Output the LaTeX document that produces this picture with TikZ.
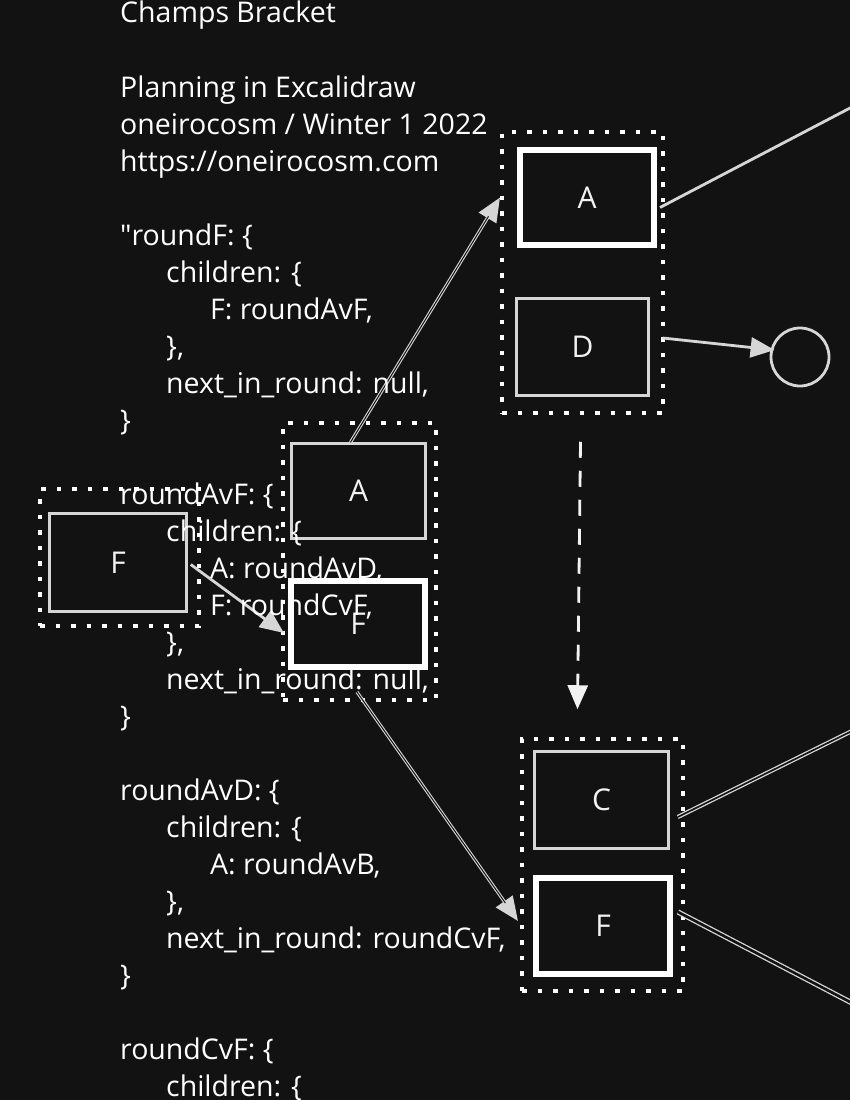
\documentclass[tikz,border=0pt]{standalone}
\usepackage{fontspec}
\setmainfont{Open Sans}
\usetikzlibrary{arrows.meta,calc}
\definecolor{bgc}{HTML}{121212}
\definecolor{ink}{HTML}{F2F2F2}
\definecolor{inkdim}{HTML}{D6D6D6}
\newcommand\codeln[3]{\node[codetext] (l#1) at (#2,{23+37*#1}) {#3};}
\begin{document}
\begin{tikzpicture}[x=1pt,y=-1pt,
  codetext/.style={anchor=base west, inner sep=0pt, text=white, font=\fontsize{28.5}{28.5}\selectfont},
  thinbox/.style={draw=inkdim, line width=2.5pt, fill=bgc, inner sep=0pt, text=ink, font=\fontsize{30}{30}\selectfont},
  thickbox/.style={draw=white, line width=6pt, fill=bgc, inner sep=0pt, text=ink, font=\fontsize{30}{30}\selectfont},
  dotframe/.style={draw=white, line width=3.5pt, dash pattern=on 4.5pt off 11pt, inner sep=0pt},
  tip/.style={-{Triangle[length=24pt,width=20pt]}},
  wline/.style={draw=inkdim, line width=3.2pt},
  gapline/.style={draw=bgc, line width=1pt},
  plainline/.style={draw=inkdim, line width=2.8pt},
  dbl/.style={draw=inkdim, line width=1.3pt, double=bgc, double distance=1.6pt},
  dashline/.style={draw=ink, line width=2.8pt, dash pattern=on 16pt off 13pt},
  circ/.style={circle, draw=inkdim, line width=2.8pt, inner sep=0pt, minimum size=58pt}
]
\fill[bgc] (0,0) rectangle (850,1100);
\useasboundingbox (0,0) rectangle (850,1100);

% dotted group frames
\node[dotframe, minimum width=161pt, minimum height=281pt] (g1) at (582.5,272.5) {};
\node[dotframe, minimum width=153pt, minimum height=277pt] (g2) at (359.5,561.5) {};
\node[dotframe, minimum width=159pt, minimum height=137pt] (g3) at (119.5,557.5) {};
\node[dotframe, minimum width=161pt, minimum height=252pt] (g4) at (602.5,865) {};

% boxes
\node[thickbox, minimum width=134pt, minimum height=95pt] (tA) at (587,197.5) {A};
\node[thinbox, minimum width=132pt, minimum height=97pt] (tD) at (582.5,347) {D};
\node[thinbox, minimum width=134pt, minimum height=95pt] (mA) at (358.5,491) {A};
\node[thickbox, minimum width=134pt, minimum height=86pt] (mF) at (358,624) {F};
\node[thinbox, minimum width=137pt, minimum height=98pt] (lF) at (118,562.5) {F};
\node[thinbox, minimum width=134pt, minimum height=97pt] (bC) at (601.5,800) {C};
\node[thickbox, minimum width=134pt, minimum height=96pt] (bF) at (603,926) {F};
\node[circ] (cir) at (800,357) {};

% free ends
\coordinate (e1) at (852,107);
\coordinate (e2) at (852,731);
\coordinate (e3) at (852,1003);

% connectors
\draw[wline, tip] ($(mA.north)+(-8,0)$) -- ($(tA.west)+(-17,0)$);
\draw[gapline, shorten >=22pt] ($(mA.north)+(-8,0)$) -- ($(tA.west)+(-17,0)$);

\draw[wline, tip] ($(mF.south)+(-1,22)$) -- ($(bF.west)+(-15,-5)$);
\draw[gapline, shorten >=22pt] ($(mF.south)+(-1,22)$) -- ($(bF.west)+(-15,-5)$);

\draw[plainline, tip] ($(lF.east)+(3,2)$) -- ($(mF.west)+(-4,9)$);
\draw[plainline, tip] ($(tD.east)+(13,-9)$) -- ($(cir.west)+(5,-7)$);
\draw[dashline, tip] ($(tD.south)+(-2,45)$) -- ($(bC.north)+(-24,-41)$);

\draw[plainline] ($(tA.east)+(3,10)$) -- (e1);
\draw[dbl] ($(bC.east)+(8,17)$) -- (e2);
\draw[dbl, double distance=2.6pt] ($(bF.east)+(5,-14)$) -- (e3);

% text
\codeln{0}{120}{Champs Bracket}
\codeln{2}{120}{Planning in Excalidraw}
\codeln{3}{120}{oneirocosm / Winter 1 2022}
\codeln{4}{120}{https://oneirocosm.com}
\codeln{6}{120}{\textquotedbl roundF: \{}
\codeln{7}{166}{children: \{}
\codeln{8}{210}{F: roundAvF,}
\codeln{9}{166}{\},}
\codeln{10}{166}{next\_in\_round: null,}
\codeln{11}{120}{\}}
\codeln{13}{120}{roundAvF: \{}
\codeln{14}{166}{children: \{}
\codeln{15}{210}{A: roundAvD,}
\codeln{16}{210}{F: roundCvF,}
\codeln{17}{166}{\},}
\codeln{18}{166}{next\_in\_round: null,}
\codeln{19}{120}{\}}
\codeln{21}{120}{roundAvD: \{}
\codeln{22}{166}{children: \{}
\codeln{23}{210}{A: roundAvB,}
\codeln{24}{166}{\},}
\codeln{25}{166}{next\_in\_round: roundCvF,}
\codeln{26}{120}{\}}
\codeln{28}{120}{roundCvF: \{}
\codeln{29}{166}{children: \{}
\end{tikzpicture}
\end{document}
